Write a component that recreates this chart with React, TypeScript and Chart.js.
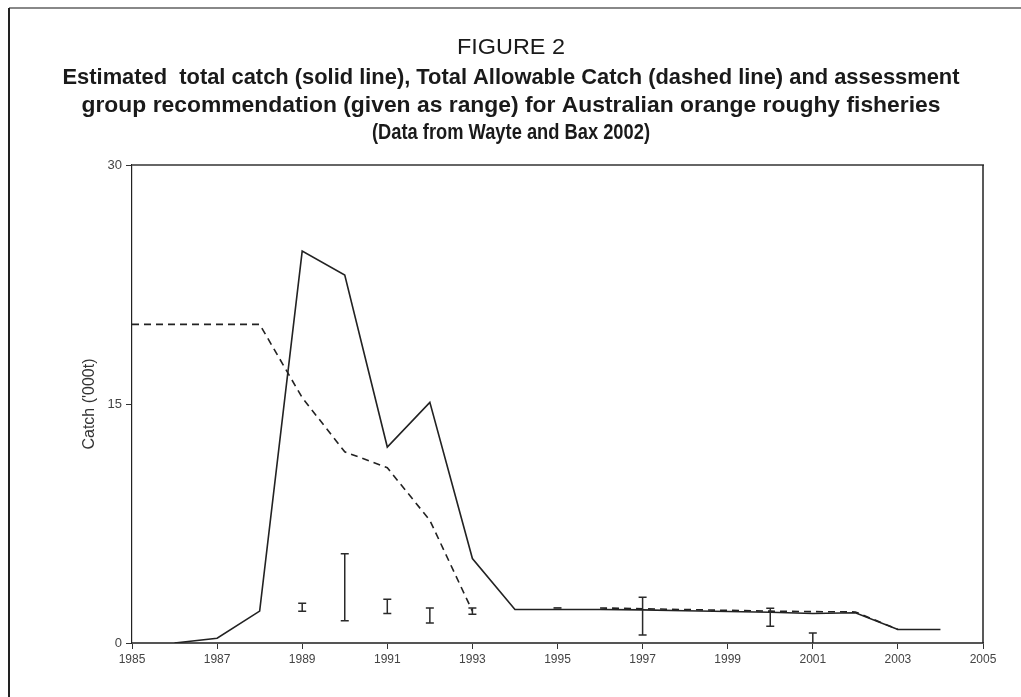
import React, { useEffect, useRef } from "react";
import { Chart, registerables } from "chart.js";

Chart.register(...registerables);

// ---------- data ----------
const years = [1985, 1986, 1987, 1988, 1989, 1990, 1991, 1992, 1993, 1994, 1995, 1996, 1997, 1998, 1999, 2000, 2001, 2002, 2003, 2004];
// Estimated total catch ('000 t), solid line
const totalCatch = [null, 0, 0.3, 2.0, 24.6, 23.1, 12.3, 15.1, 5.3, 2.1, 2.1, 2.1, 2.08, 2.02, 1.98, 1.93, 1.85, 1.9, 0.85, 0.85];
// Total Allowable Catch ('000 t), dashed line
const tac = [20, 20, 20, 20, 15.4, 12.0, 11.0, 7.7, 2.0, null, 2.2, 2.2, 2.15, 2.1, 2.05, 2.0, 1.97, 1.95, 0.85, null];
// Assessment group recommendation (range)
const rangeYears = [1989, 1990, 1991, 1992, 1993, 1997, 2000, 2001];
const rangeLow = [2.0, 1.4, 1.85, 1.25, 1.8, 0.5, 1.05, 0];
const rangeHigh = [2.5, 5.6, 2.75, 2.2, 2.2, 2.87, 2.18, 0.63];
const xTicks = [1985, 1987, 1989, 1991, 1993, 1995, 1997, 1999, 2001, 2003, 2005];
const yTicks = [0, 15, 30];
const yTitle = "Catch ('000t)";
const titleLines = [
  "FIGURE 2",
  "Estimated  total catch (solid line), Total Allowable Catch (dashed line) and assessment",
  "group recommendation (given as range) for Australian orange roughy fisheries",
  "(Data from Wayte and Bax 2002)",
];

// ---------- layout of the title lines (styling only) ----------
const titleStyle = [
  { bold: false, y: 48, w: 108, size: 22 },
  { bold: true, y: 78, w: 897, size: 22 },
  { bold: true, y: 106, w: 859, size: 22 },
  { bold: true, y: 133, w: 278, size: 22 },
];

export default function App() {
  const ref = useRef<HTMLCanvasElement>(null);

  useEffect(() => {
    const canvas = ref.current;
    if (!canvas) return;

    const decor = {
      id: "decor",
      afterDatasetsDraw(chart: any) {
        const ctx = chart.ctx;
        const xs = chart.scales.x;
        const ys = chart.scales.y;
        ctx.save();
        ctx.strokeStyle = "#2a2a2a";
        ctx.lineWidth = 1.5;
        rangeYears.forEach((yr, i) => {
          const px = xs.getPixelForValue(yr);
          const pLo = ys.getPixelForValue(rangeLow[i]);
          const pHi = ys.getPixelForValue(rangeHigh[i]);
          ctx.beginPath();
          ctx.moveTo(px, pLo);
          ctx.lineTo(px, pHi);
          ctx.moveTo(px - 4, pHi);
          ctx.lineTo(px + 4, pHi);
          if (rangeLow[i] > 0) {
            ctx.moveTo(px - 4, pLo);
            ctx.lineTo(px + 4, pLo);
          }
          ctx.stroke();
        });
        ctx.restore();
      },
      afterDraw(chart: any) {
        const ctx = chart.ctx;
        const a = chart.chartArea;
        ctx.save();
        // plot frame top + right
        ctx.strokeStyle = "#666";
        ctx.lineWidth = 2;
        ctx.beginPath();
        ctx.moveTo(a.left, a.top);
        ctx.lineTo(a.right + 1, a.top);
        ctx.stroke();
        ctx.strokeStyle = "#222";
        ctx.lineWidth = 1.5;
        ctx.beginPath();
        ctx.moveTo(a.right, a.top);
        ctx.lineTo(a.right, a.bottom);
        ctx.stroke();

        // outer figure frame
        ctx.strokeStyle = "#888";
        ctx.lineWidth = 2;
        ctx.beginPath();
        ctx.moveTo(9, 8);
        ctx.lineTo(1021, 8);
        ctx.stroke();
        ctx.strokeStyle = "#222";
        ctx.beginPath();
        ctx.moveTo(9, 8);
        ctx.lineTo(9, 697);
        ctx.stroke();

        // title lines
        ctx.fillStyle = "#1a1a1a";
        ctx.textAlign = "center";
        ctx.textBaseline = "middle";
        titleLines.forEach((t, i) => {
          const st = titleStyle[i];
          ctx.font = `${st.bold ? "bold " : ""}${st.size}px "Liberation Sans", Arial, sans-serif`;
          const m = ctx.measureText(t).width;
          const sx = st.w / m;
          ctx.save();
          ctx.translate(511, st.y);
          ctx.scale(sx, 1.0);
          ctx.fillText(t, 0, 0);
          ctx.restore();
        });

        // y axis title
        ctx.save();
        ctx.fillStyle = "#333";
        ctx.font = '16px "Liberation Sans", Arial, sans-serif';
        ctx.translate(90, (a.top + a.bottom) / 2);
        ctx.rotate(-Math.PI / 2);
        ctx.fillText(yTitle, 0, 0);
        ctx.restore();
        ctx.restore();
      },
    };

    const chart = new Chart(canvas, {
      type: "line",
      data: {
        datasets: [
          {
            label: "Estimated total catch",
            data: years.map((x, i) => ({ x, y: totalCatch[i] })),
            borderColor: "#222",
            borderWidth: 1.6,
            pointRadius: 0,
            tension: 0,
            spanGaps: false,
          },
          {
            label: "Total Allowable Catch",
            data: years.map((x, i) => ({ x, y: tac[i] })),
            borderColor: "#222",
            borderWidth: 1.6,
            borderDash: [7, 5],
            pointRadius: years.map((y) => (y === 1995 ? 4 : 0)),
            pointStyle: "line",
            pointBorderColor: "#222",
            pointBorderWidth: 1.6,
            tension: 0,
            spanGaps: false,
            segment: {
              borderColor: (ctx: any) => (ctx.p0.parsed.x === 1995 ? "rgba(0,0,0,0)" : undefined),
            },
          },
        ] as any,
      },
      options: {
        animation: false,
        responsive: false,
        maintainAspectRatio: false,
        layout: { padding: { top: 165, right: 38, bottom: 21, left: 0 } },
        plugins: {
          legend: { display: false },
          tooltip: { enabled: false },
          title: { display: false },
        },
        scales: {
          x: {
            type: "linear",
            min: 1985,
            max: 2005,
            afterBuildTicks: (s: any) => {
              s.ticks = xTicks.map((v) => ({ value: v }));
            },
            afterFit: (s: any) => {
              s.height = 33;
            },
            ticks: {
              callback: (v: any) => String(v),
              font: { family: '"Liberation Sans", Arial, sans-serif', size: 12 },
              color: "#444",
              maxRotation: 0,
              autoSkip: false,
              padding: 3,
            },
            grid: { drawOnChartArea: false, drawTicks: true, tickLength: 6, color: "#333", lineWidth: 1 },
            border: { color: "#555", width: 2 },
          },
          y: {
            type: "linear",
            min: 0,
            max: 30,
            afterBuildTicks: (s: any) => {
              s.ticks = yTicks.map((v) => ({ value: v }));
            },
            afterFit: (s: any) => {
              s.width = 132;
            },
            ticks: {
              font: { family: '"Liberation Sans", Arial, sans-serif', size: 13 },
              color: "#444",
              padding: 4,
            },
            grid: { drawOnChartArea: false, drawTicks: true, tickLength: 6, color: "#333", lineWidth: 1 },
            border: { color: "#222", width: 1.2 },
          },
        },
      } as any,
      plugins: [decor],
    });

    return () => chart.destroy();
  }, []);

  return (
    <div style={{ position: "fixed", left: 0, top: 0, width: 1021, height: 697, background: "#fff" }}>
      <canvas ref={ref} width={1021} height={697} style={{ display: "block" }} />
    </div>
  );
}
